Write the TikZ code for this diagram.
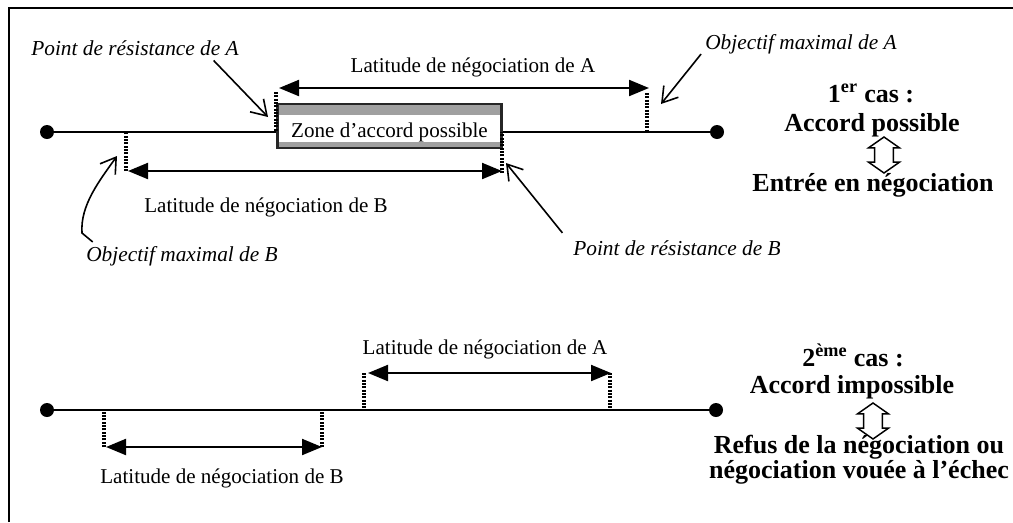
\documentclass[tikz,border=0pt]{standalone}
\usepackage{fontspec}
\setmainfont{Liberation Serif}
\usetikzlibrary{arrows.meta,shapes.arrows}
\definecolor{BandGray}{RGB}{160,160,160}

\begin{document}
\begin{tikzpicture}[
x=0.75pt,y=-0.75pt,
axisline/.style={line width=1.6pt},
endpt/.style={circle,fill,inner sep=0pt,minimum size=10.5pt},
limitline/.style={line width=2.4pt,dash pattern=on 1.5pt off 1pt},
latspan/.style={{Triangle[length=15pt,width=12pt]}-{Triangle[length=15pt,width=12pt]},line width=1.6pt},
pointer/.style={-{Straight Barb[length=11pt,width=14pt]},line width=1.2pt},
notetext/.style={font=\fontsize{16}{19}\selectfont\itshape,inner sep=0pt},
spantext/.style={font=\fontsize{15.8}{19}\selectfont,inner sep=0pt},
casetext/.style={font=\fontsize{19.5}{19}\selectfont\bfseries,align=center,inner sep=0pt},
zonebox/.style={
draw=black!85,line width=1.6pt,fill=white,
minimum width=168pt,minimum height=33pt,inner sep=0pt,
text height=16.5pt,text depth=0pt,font=\fontsize{15.8}{19}\selectfont,
path picture={
\fill[BandGray] (path picture bounding box.north west) rectangle ([yshift=-8.5pt]path picture bounding box.north east);
\fill[BandGray] (path picture bounding box.south west) rectangle ([yshift=4.5pt]path picture bounding box.south east);
}
},
equiv/.style={
double arrow,draw,line width=1.1pt,shape border rotate=90,
minimum height=27pt,inner sep=6.5pt,
double arrow head extend=4.5pt,double arrow tip angle=110
}
]

\useasboundingbox (0,0) rectangle (1013,522);
\draw[line width=1.8pt] (9,522) -- (9,8) -- (1013,8);

% 1er cas
\node[endpt] (l1) at (47,132) {};
\node[endpt] (r1) at (717,132) {};
\draw[axisline] (l1) -- (r1);

\node[zonebox] (zone) at (389.5,126) {Zone d’accord possible};

\coordinate (resA) at (276,92);
\coordinate (objA) at (647,93);
\coordinate (objB) at (126,171);
\coordinate (resB) at (502,173);
\draw[limitline] (resA) -- (resA |- l1);
\draw[limitline] (objA) -- (objA |- l1);
\draw[limitline] (objB) -- (objB |- l1);
\draw[limitline] (resB) -- (resB |- l1);

\coordinate (latA1) at (279,88);
\coordinate (latA2) at (649,88);
\coordinate (latB1) at (128,171);
\coordinate (latB2) at (502,171);
\draw[latspan] (latA1) -- (latA2);
\draw[latspan] (latB1) -- (latB2);

\node[spantext] (txtA1) at (473,67) {Latitude de négociation de A};
\node[spantext] (txtB1) at (266,207) {Latitude de négociation de B};

\node[notetext] (noteResA) at (135,48) {Point de résistance de A};
\node[notetext] (noteObjA) at (801,44) {Objectif maximal de A};
\node[notetext] (noteResB) at (677,248) {Point de résistance de B};
\node[notetext] (noteObjB) at (182,256) {Objectif maximal de B};

\coordinate (tipResA) at (268,117);
\coordinate (tipObjA) at (661,104);
\coordinate (tipResB) at (506,163);
\coordinate (tipObjB) at (117,156);
\draw[pointer] ([xshift=-19pt,yshift=-3.5pt]noteResA.south east) -- (tipResA);
\draw[pointer] ([xshift=-3pt]noteObjA.south west) -- (tipObjA);
\draw[pointer] ([xshift=-8pt,yshift=5.5pt]noteResB.north west) -- (tipResB);
\draw[pointer] ([xshift=5pt,yshift=3pt]noteObjB.north west) -- (82,233) .. controls (80,205) and (100,180) .. (tipObjB);

\node[casetext] (case1) at (871,93) {1\textsuperscript{er} cas :};
\node[casetext] (agree1) at (872,125) {Accord possible};
\node[equiv] (eq1) at (884,155) {};
\node[casetext] (entry1) at (873,185) {Entrée en négociation};

% 2ème cas
\node[endpt] (l2) at (47,410) {};
\node[endpt] (r2) at (716,410) {};
\draw[axisline] (l2) -- (r2);

\coordinate (objB2) at (104,447);
\coordinate (resB2) at (322,447);
\coordinate (resA2) at (364,373);
\coordinate (objA2) at (610,373);
\draw[limitline] (objB2) -- (objB2 |- l2);
\draw[limitline] (resB2) -- (resB2 |- l2);
\draw[limitline] (resA2) -- (resA2 |- l2);
\draw[limitline] (objA2) -- (objA2 |- l2);

\coordinate (latB3) at (106,447);
\coordinate (latA3) at (368,373);
\coordinate (latA4) at (611,373);
\draw[latspan] (latB3) -- (resB2);
\draw[latspan] (latA3) -- (latA4);

\node[spantext] (txtA2) at (485,349) {Latitude de négociation de A};
\node[spantext] (txtB2) at (222,478) {Latitude de négociation de B};

\node[casetext] (case2) at (853,355) {2\textsuperscript{ème} cas :};
\node[casetext] (agree2) at (852,387) {Accord impossible};
\node[equiv] (eq2) at (873,421) {};
\node[casetext] (refusal) at (859,460) {Refus de la négociation ou\\négociation vouée à l’échec};

\end{tikzpicture}
\end{document}
